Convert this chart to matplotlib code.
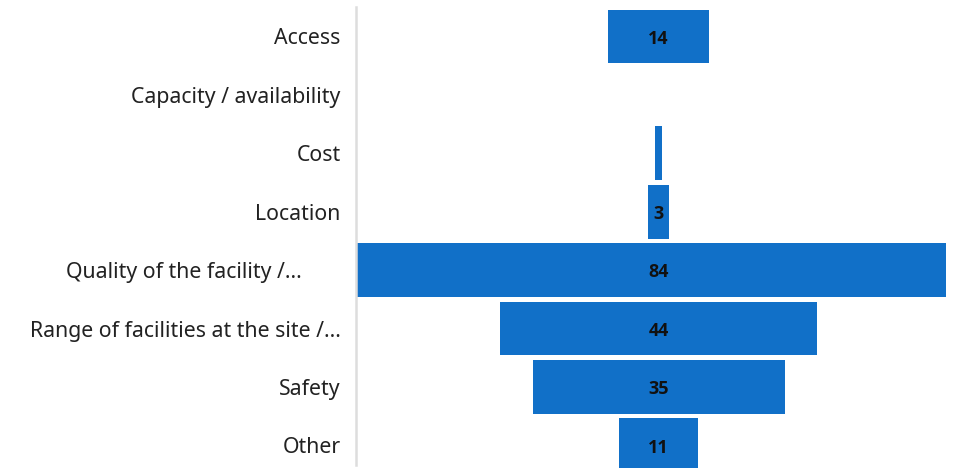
import numpy as np
import matplotlib.pyplot as plt

# data
categories = ['Access', 'Capacity / availability', 'Cost', 'Location',
              'Quality of the facility /...', 'Range of facilities at the site /...',
              'Safety', 'Other']
values = [14, 0, 1, 3, 84, 44, 35, 11]
shown = [True, False, False, True, True, True, True, True]

bar_color = '#1170c8'

plt.rcParams['font.family'] = ['Noto Sans', 'DejaVu Sans']

fig = plt.figure(figsize=(9.54, 4.68), dpi=100)
ax = fig.add_axes([356 / 954, 0, 590 / 954, 1])

y = np.arange(len(categories))
vals = np.array(values, dtype=float)

# funnel: bars centred on zero
ax.barh(y, vals, left=-vals / 2, height=0.92, color=bar_color, edgecolor='none')

for yi, v, s in zip(y, values, shown):
    if s:
        ax.text(0, yi + 0.04, str(v), ha='center', va='center', fontsize=13,
                fontweight='bold', family=['Open Sans', 'DejaVu Sans'],
                color='#111111')

# axis ranges (funnel centre sits right of the plot middle)
ax.set_xlim(-302.5 / 7.2, 287.5 / 7.2)
ax.set_ylim(-0.625 + 468 / 58.4, -0.625)

# the truncated "Quality" label sits further left in the original
labels = [c + ('       ' if c.startswith('Quality') else '') for c in categories]
ax.set_yticks(y)
ax.set_yticklabels(labels, fontsize=15.3, color='#222222')
ax.tick_params(axis='y', length=0, pad=11)
ax.set_xticks([])

for side in ['top', 'right', 'bottom']:
    ax.spines[side].set_visible(False)
ax.spines['left'].set_color('#dddddd')
ax.spines['left'].set_linewidth(1.8)
ax.spines['left'].set_bounds(-0.505, 7.34)

fig.savefig('out.png', dpi=100)
